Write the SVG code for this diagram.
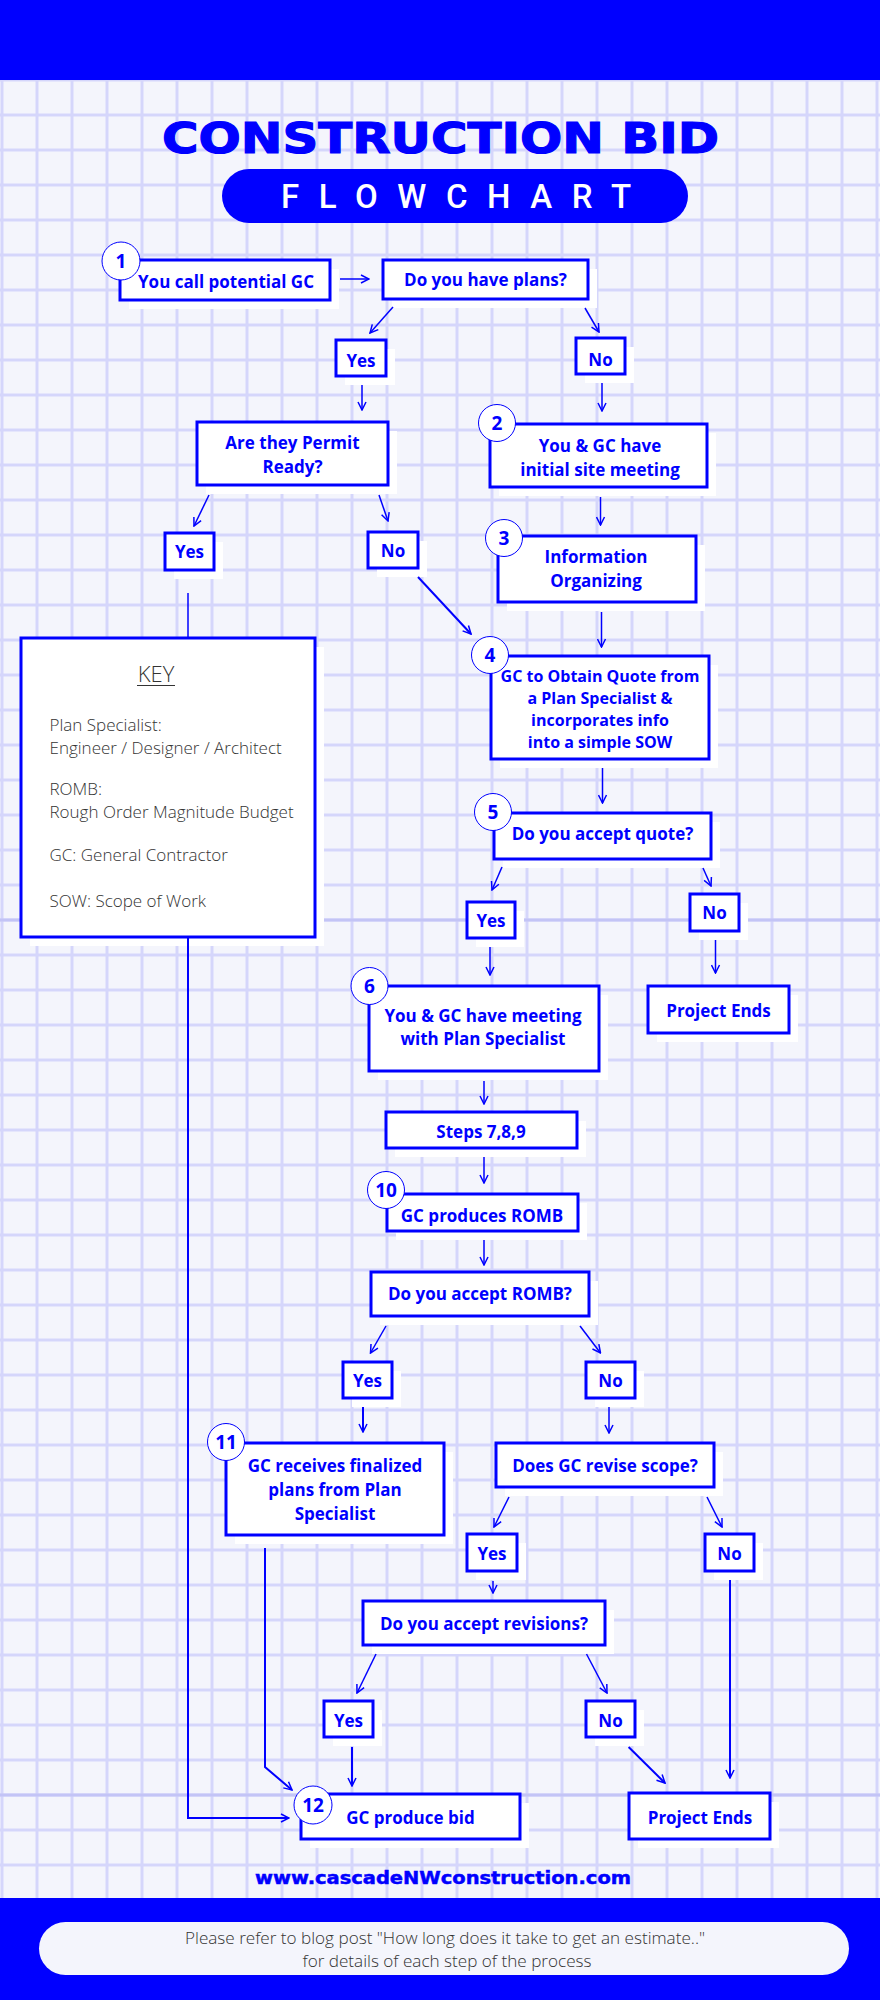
<svg xmlns="http://www.w3.org/2000/svg" width="880" height="2000" viewBox="0 0 880 2000">
<defs>
<pattern id="grid" patternUnits="userSpaceOnUse" x="-15.5" y="62.5" width="35" height="35">
<rect x="16" y="0" width="3" height="35" fill="#d5d6fb"/>
<rect x="0" y="16" width="35" height="3" fill="#d5d6fb"/>
</pattern>
<marker id="ah" markerUnits="userSpaceOnUse" markerWidth="10" markerHeight="10" viewBox="0 0 10 10" refX="9" refY="5" orient="auto">
<path d="M1,1 L9,5 L1,9" fill="none" stroke="#0000ff" stroke-width="1.5"/>
</marker>
</defs>
<style>
.box{fill:#ffffff;stroke:#0000ff;stroke-width:3}
.sh{fill:#ffffff}
.t{font-family:"Open Sans","Liberation Sans",sans-serif;font-weight:700;font-size:17px;fill:#0000ff;text-anchor:middle}
.t16{font-size:16px}
.n{font-family:"Open Sans","Liberation Sans",sans-serif;font-weight:700;font-size:19px;fill:#0000ff;text-anchor:middle}
.c{fill:#ffffff;stroke:#0000ff;stroke-width:1}
.k{font-family:"Open Sans","Liberation Sans",sans-serif;font-weight:300;font-size:17px;fill:#333333}
.kh{font-size:22px;text-anchor:middle}
.ln{fill:none;stroke:#0000ff;stroke-width:1.5}
.lw{fill:none;stroke:#0000ff;stroke-width:2}
</style>
<rect x="0" y="0" width="880" height="2000" fill="#f4f5fc"/>
<rect x="0" y="80" width="880" height="1818" fill="url(#grid)"/>
<rect x="0" y="918.5" width="880" height="3" fill="#c3c4f6"/>
<rect x="0" y="1793.5" width="880" height="3" fill="#c3c4f6"/>
<rect x="0" y="0" width="880" height="80" fill="#0000ff"/>
<rect x="0" y="1898" width="880" height="102" fill="#0000ff"/>

<g id="title">
<text x="162" y="153" font-family="DejaVu Sans, sans-serif" font-weight="900" font-size="43" fill="#0000ff" stroke="#0000ff" stroke-width="1.2" textLength="557" lengthAdjust="spacingAndGlyphs">CONSTRUCTION BID</text>
<rect x="222" y="169" width="466" height="54" rx="27" fill="#0000ff"/>
<text x="281" y="208" font-family="Roboto, Liberation Sans, sans-serif" font-weight="500" font-size="33" fill="#ffffff" textLength="350" lengthAdjust="spacing">FLOWCHART</text>
</g>

<g id="n1"><rect class="sh" x="129" y="269" width="210" height="40"/><rect class="box" x="120" y="260" width="210" height="40"/><text class="t" x="226" y="288">You call potential GC</text><circle class="c" cx="121" cy="261" r="19"/><text class="n" x="121" y="268">1</text></g>
<g id="q1"><rect class="sh" x="392" y="269" width="205" height="39"/><rect class="box" x="383" y="260" width="205" height="39"/><text class="t" x="485.5" y="286">Do you have plans?</text></g>
<g id="y1"><rect class="sh" x="345" y="349" width="50" height="36"/><rect class="box" x="336" y="340" width="50" height="36"/><text class="t" x="361" y="367">Yes</text></g>
<g id="no1"><rect class="sh" x="585" y="347" width="49" height="36"/><rect class="box" x="576" y="338" width="49" height="36"/><text class="t" x="600.5" y="366">No</text></g>
<g id="q2"><rect class="sh" x="206" y="431" width="191" height="63"/><rect class="box" x="197" y="422" width="191" height="63"/><text class="t" x="292.5" y="449">Are they Permit</text><text class="t" x="292.5" y="473">Ready?</text></g>
<g id="n2"><rect class="sh" x="499" y="433" width="217" height="63"/><rect class="box" x="490" y="424" width="217" height="63"/><text class="t" x="600" y="452">You &amp; GC have</text><text class="t" x="600" y="476">initial site meeting</text><circle class="c" cx="497" cy="423" r="18.5"/><text class="n" x="497" y="430">2</text></g>
<g id="y2"><rect class="sh" x="174" y="542" width="49" height="37"/><rect class="box" x="165" y="533" width="49" height="37"/><text class="t" x="189.5" y="558">Yes</text></g>
<g id="no2"><rect class="sh" x="377" y="541" width="50" height="36"/><rect class="box" x="368" y="532" width="50" height="36"/><text class="t" x="393" y="557">No</text></g>
<g id="n3"><rect class="sh" x="507" y="545" width="198" height="66"/><rect class="box" x="498" y="536" width="198" height="66"/><text class="t" x="596" y="563">Information</text><text class="t" x="596" y="587">Organizing</text><circle class="c" cx="504" cy="538" r="18.5"/><text class="n" x="504" y="545">3</text></g>
<g id="key"><rect class="sh" x="30" y="647" width="294" height="299"/><rect class="box" x="21" y="638" width="294" height="299"/>
<text class="k kh" x="156" y="682">KEY</text><line x1="137" y1="685.5" x2="175" y2="685.5" stroke="#333333" stroke-width="1.2"/>
<text class="k" x="49.5" y="731">Plan Specialist:</text>
<text class="k" x="49.5" y="754">Engineer / Designer / Architect</text>
<text class="k" x="49.5" y="795">ROMB:</text>
<text class="k" x="49.5" y="818">Rough Order Magnitude Budget</text>
<text class="k" x="49.5" y="861">GC: General Contractor</text>
<text class="k" x="49.5" y="907">SOW: Scope of Work</text></g>
<g id="n4"><rect class="sh" x="500" y="665" width="218" height="103"/><rect class="box" x="491" y="656" width="218" height="103"/><text class="t t16" x="600" y="682">GC to Obtain Quote from</text><text class="t t16" x="600" y="704">a Plan Specialist &amp;</text><text class="t t16" x="600" y="726">incorporates info</text><text class="t t16" x="600" y="748">into a simple SOW</text><circle class="c" cx="490" cy="655" r="18.5"/><text class="n" x="490" y="662">4</text></g>
<g id="n5"><rect class="sh" x="503" y="822" width="217" height="46"/><rect class="box" x="494" y="813" width="217" height="46"/><text class="t" x="602.5" y="840">Do you accept quote?</text><circle class="c" cx="493" cy="812" r="18.5"/><text class="n" x="493" y="819">5</text></g>
<g id="y3"><rect class="sh" x="476" y="911" width="48" height="36"/><rect class="box" x="467" y="902" width="48" height="36"/><text class="t" x="491" y="927">Yes</text></g>
<g id="no3"><rect class="sh" x="699" y="903" width="49" height="37"/><rect class="box" x="690" y="894" width="49" height="37"/><text class="t" x="714.5" y="919">No</text></g>
<g id="n6"><rect class="sh" x="378" y="995" width="230" height="85"/><rect class="box" x="369" y="986" width="230" height="85"/><text class="t" x="483" y="1022">You &amp; GC have meeting</text><text class="t" x="483" y="1045">with Plan Specialist</text><circle class="c" cx="369.5" cy="986" r="18.5"/><text class="n" x="369.5" y="993">6</text></g>
<g id="end1"><rect class="sh" x="657" y="995" width="141" height="47"/><rect class="box" x="648" y="986" width="141" height="47"/><text class="t" x="718.5" y="1017">Project Ends</text></g>
<g id="n789"><rect class="sh" x="395" y="1121" width="191" height="36"/><rect class="box" x="386" y="1112" width="191" height="36"/><text class="t" x="481" y="1138">Steps 7,8,9</text></g>
<g id="n10"><rect class="sh" x="396" y="1203" width="191" height="37"/><rect class="box" x="387" y="1194" width="191" height="37"/><text class="t" x="482" y="1222">GC produces ROMB</text><circle class="c" cx="386" cy="1190" r="18.5"/><text class="n" x="386" y="1197">10</text></g>
<g id="q10"><rect class="sh" x="380" y="1281" width="218" height="44"/><rect class="box" x="371" y="1272" width="218" height="44"/><text class="t" x="480" y="1300">Do you accept ROMB?</text></g>
<g id="y4"><rect class="sh" x="352" y="1371" width="49" height="36"/><rect class="box" x="343" y="1362" width="49" height="36"/><text class="t" x="367.5" y="1387">Yes</text></g>
<g id="no4"><rect class="sh" x="595" y="1371" width="49" height="36"/><rect class="box" x="586" y="1362" width="49" height="36"/><text class="t" x="610.5" y="1387">No</text></g>
<g id="n11"><rect class="sh" x="235" y="1452" width="218" height="92"/><rect class="box" x="226" y="1443" width="218" height="92"/><text class="t" x="335" y="1472">GC receives finalized</text><text class="t" x="335" y="1496">plans from Plan</text><text class="t" x="335" y="1520">Specialist</text><circle class="c" cx="226" cy="1442" r="18.5"/><text class="n" x="226" y="1449">11</text></g>
<g id="q11"><rect class="sh" x="505" y="1452" width="218" height="44"/><rect class="box" x="496" y="1443" width="218" height="44"/><text class="t" x="605" y="1472">Does GC revise scope?</text></g>
<g id="y5"><rect class="sh" x="476" y="1543" width="50" height="37"/><rect class="box" x="467" y="1534" width="50" height="37"/><text class="t" x="492" y="1560">Yes</text></g>
<g id="no5"><rect class="sh" x="714" y="1543" width="49" height="37"/><rect class="box" x="705" y="1534" width="49" height="37"/><text class="t" x="729.5" y="1560">No</text></g>
<g id="q12"><rect class="sh" x="372" y="1610" width="242" height="44"/><rect class="box" x="363" y="1601" width="242" height="44"/><text class="t" x="484" y="1630">Do you accept revisions?</text></g>
<g id="y6"><rect class="sh" x="333" y="1710" width="49" height="36"/><rect class="box" x="324" y="1701" width="49" height="36"/><text class="t" x="348.5" y="1727">Yes</text></g>
<g id="no6"><rect class="sh" x="595" y="1710" width="49" height="36"/><rect class="box" x="586" y="1701" width="49" height="36"/><text class="t" x="610.5" y="1727">No</text></g>
<g id="n12"><rect class="sh" x="310" y="1803" width="219" height="45"/><rect class="box" x="301" y="1794" width="219" height="45"/><text class="t" x="410.5" y="1824">GC produce bid</text><circle class="c" cx="313" cy="1805" r="19"/><text class="n" x="313" y="1812">12</text></g>
<g id="end2"><rect class="sh" x="638" y="1802" width="141" height="46"/><rect class="box" x="629" y="1793" width="141" height="46"/><text class="t" x="700" y="1824">Project Ends</text></g>

<g id="connectors">
<line class="ln" x1="340" y1="279" x2="369" y2="279" marker-end="url(#ah)"/>
<line class="ln" x1="393" y1="307" x2="370" y2="333" marker-end="url(#ah)"/>
<line class="ln" x1="585" y1="308" x2="599" y2="332" marker-end="url(#ah)"/>
<line class="ln" x1="362" y1="385" x2="362" y2="410" marker-end="url(#ah)"/>
<line class="ln" x1="602" y1="383" x2="602" y2="411" marker-end="url(#ah)"/>
<line class="ln" x1="209" y1="495" x2="194" y2="526" marker-end="url(#ah)"/>
<line class="ln" x1="379" y1="495" x2="388" y2="521" marker-end="url(#ah)"/>
<line class="ln" x1="600.5" y1="497" x2="600.5" y2="525" marker-end="url(#ah)"/>
<line class="lw" x1="418" y1="577" x2="471" y2="634" marker-end="url(#ah)"/>
<line class="ln" x1="188" y1="593" x2="188" y2="638"/>
<polyline class="lw" points="188,938 188,1818 289,1818" marker-end="url(#ah)"/>
<line class="ln" x1="601.5" y1="612" x2="601.5" y2="647" marker-end="url(#ah)"/>
<line class="ln" x1="602.5" y1="768" x2="602.5" y2="803" marker-end="url(#ah)"/>
<line class="ln" x1="502" y1="867" x2="492" y2="890" marker-end="url(#ah)"/>
<line class="ln" x1="703" y1="868" x2="711" y2="886" marker-end="url(#ah)"/>
<line class="ln" x1="490" y1="947" x2="490" y2="975" marker-end="url(#ah)"/>
<line class="ln" x1="715.5" y1="940" x2="715.5" y2="973" marker-end="url(#ah)"/>
<line class="ln" x1="484" y1="1081" x2="484" y2="1104" marker-end="url(#ah)"/>
<line class="ln" x1="484" y1="1157" x2="484" y2="1183" marker-end="url(#ah)"/>
<line class="ln" x1="484" y1="1240" x2="484" y2="1265" marker-end="url(#ah)"/>
<line class="ln" x1="386" y1="1326" x2="370.5" y2="1353" marker-end="url(#ah)"/>
<line class="ln" x1="580" y1="1326" x2="600.5" y2="1353" marker-end="url(#ah)"/>
<line class="lw" x1="363" y1="1407" x2="363" y2="1432" marker-end="url(#ah)"/>
<line class="ln" x1="609" y1="1407" x2="609" y2="1433" marker-end="url(#ah)"/>
<line class="ln" x1="509" y1="1497" x2="494" y2="1527" marker-end="url(#ah)"/>
<line class="ln" x1="707" y1="1497" x2="722" y2="1527" marker-end="url(#ah)"/>
<line class="ln" x1="493" y1="1581" x2="493" y2="1593" marker-end="url(#ah)"/>
<line class="ln" x1="376" y1="1654" x2="357" y2="1693" marker-end="url(#ah)"/>
<line class="ln" x1="586.5" y1="1654" x2="607" y2="1693" marker-end="url(#ah)"/>
<polyline class="lw" points="265,1548 265,1767 292,1790" marker-end="url(#ah)"/>
<line class="lw" x1="730" y1="1580" x2="730" y2="1778" marker-end="url(#ah)"/>
<line class="lw" x1="352" y1="1747" x2="352" y2="1786" marker-end="url(#ah)"/>
<line class="lw" x1="628.6" y1="1747" x2="665" y2="1783" marker-end="url(#ah)"/>
</g>

<g id="footer">
<text x="255" y="1884" font-family="DejaVu Sans, sans-serif" font-weight="900" font-size="18" fill="#0000ff" stroke="#0000ff" stroke-width="0.5" textLength="376" lengthAdjust="spacingAndGlyphs">www.cascadeNWconstruction.com</text>
<rect x="39" y="1922" width="810" height="53" rx="26.5" fill="#f4f5fc"/>
<text x="445" y="1944" font-family="Open Sans, Liberation Sans, sans-serif" font-weight="300" font-size="16" fill="#333333" text-anchor="middle" textLength="520" lengthAdjust="spacingAndGlyphs">Please refer to blog post "How long does it take to get an estimate.."</text>
<text x="447" y="1967" font-family="Open Sans, Liberation Sans, sans-serif" font-weight="300" font-size="16" fill="#333333" text-anchor="middle" textLength="289" lengthAdjust="spacingAndGlyphs">for details of each step of the process</text>
</g>
</svg>
